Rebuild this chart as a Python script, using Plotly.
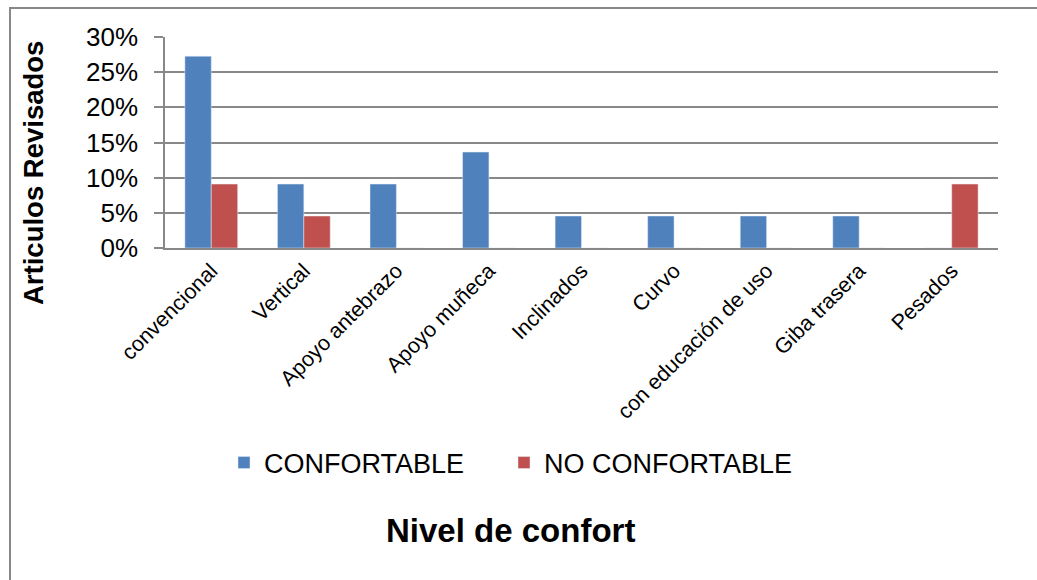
import plotly.graph_objects as go

categories = ["convencional", "Vertical", "Apoyo antebrazo", "Apoyo muñeca", "Inclinados",
              "Curvo", "con educación de uso", "Giba trasera", "Pesados"]
confortable = [0.2727, 0.0909, 0.0909, 0.1364, 0.0455, 0.0455, 0.0455, 0.0455, 0.0]
no_confortable = [0.0909, 0.0455, 0.0, 0.0, 0.0, 0.0, 0.0, 0.0, 0.0909]
y_ticks = [0, 0.05, 0.10, 0.15, 0.20, 0.25, 0.30]

FONT = "Liberation Sans, Arial, sans-serif"
GRID = "#888888"

fig = go.Figure()
fig.add_trace(go.Bar(x=categories, y=confortable, name="CONFORTABLE", marker_color="#4F81BD",
                     legend="legend"))
fig.add_trace(go.Bar(x=categories, y=no_confortable, name="NO CONFORTABLE", marker_color="#C0504D",
                     legend="legend2"))

L, R, T, B = 165, 39, 37, 332
W, H = 1037, 580
pw = W - L - R
ph = H - T - B

def px(x):
    return (x - L) / pw

def py(y):
    return (H - B - y) / ph

fig.update_layout(
    width=W, height=H,
    margin=dict(l=L, r=R, t=T, b=B),
    paper_bgcolor="white", plot_bgcolor="white",
    barmode="group", bargap=0.43, bargroupgap=0,
    font=dict(family=FONT, color="black"),
    xaxis=dict(tickangle=-45, tickfont=dict(size=21.5), showline=True, linecolor=GRID,
               linewidth=1.5, showgrid=False, ticks=""),
    yaxis=dict(range=[0, 0.30], tickvals=y_ticks, tickformat=".0%", tickfont=dict(size=26),
               showgrid=True, gridcolor=GRID, gridwidth=1.5, showline=True, linecolor=GRID,
               linewidth=1.5, ticks="outside", ticklen=9, tickcolor=GRID, tickwidth=1.5,
               ticklabelstandoff=11, zeroline=False),
    legend=dict(orientation="h", x=px(224), xanchor="left", y=py(463), yanchor="middle",
                font=dict(size=27)),
    legend2=dict(orientation="h", x=px(504), xanchor="left", y=py(463), yanchor="middle",
                 font=dict(size=27)),
    showlegend=True,
    annotations=[
        dict(text="<b>Articulos Revisados</b>", xref="paper", yref="paper", x=px(33), y=py(173),
             textangle=-90, showarrow=False, font=dict(size=27.5, family=FONT),
             xanchor="center", yanchor="middle"),
        dict(text="<b>Nivel de confort</b>", xref="paper", yref="paper", x=px(510), y=py(530),
             showarrow=False, font=dict(size=33, family=FONT), xanchor="center", yanchor="middle"),
    ],
    shapes=[
        dict(type="rect", xref="paper", yref="paper", x0=px(10), x1=px(1100), y0=py(640), y1=py(8),
             line=dict(color="#888888", width=2), fillcolor="rgba(0,0,0,0)", layer="below"),
    ],
)

fig.write_html("out.html")
